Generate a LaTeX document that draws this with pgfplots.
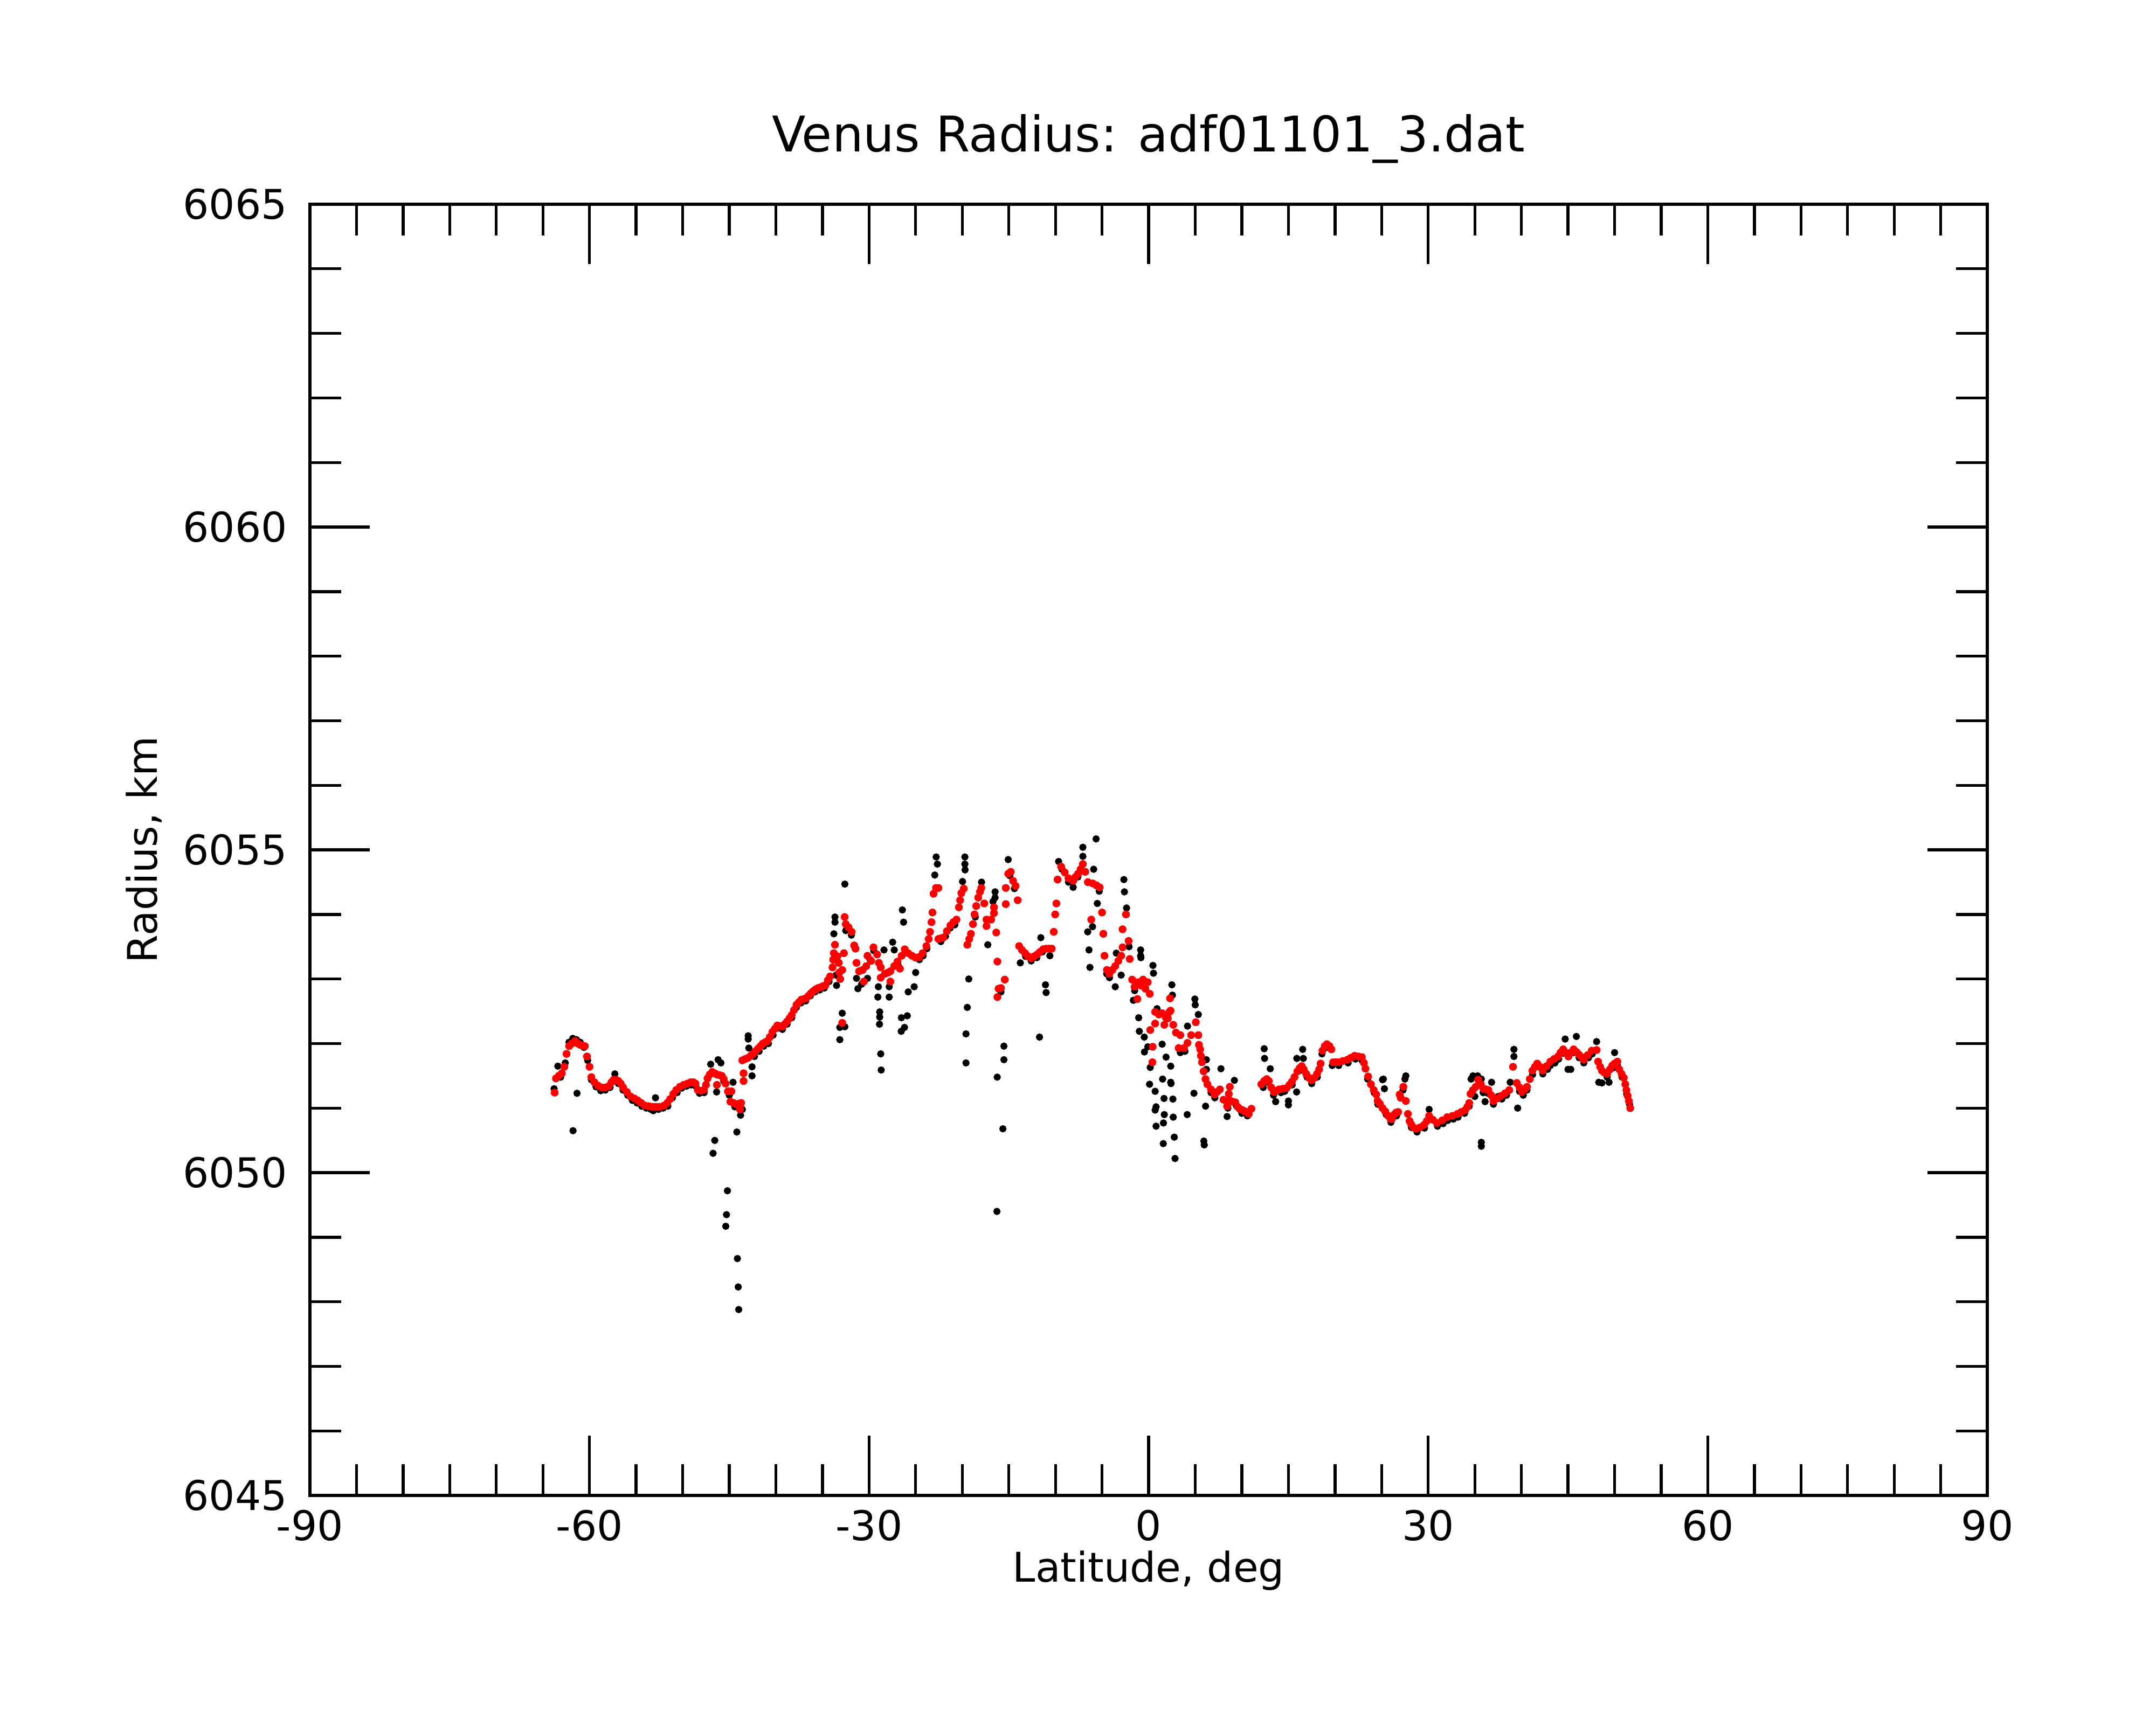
\documentclass[border=0pt]{standalone}
\usepackage{fontspec}
\setmainfont{DejaVu Sans}
\usepackage{pgfplots}
\usepackage{pgfplotstable}
\pgfplotsset{compat=1.18}

\pgfplotstableread[row sep=\\]{
x y\\
-63.74 6051.24\\ -63.6 6051.46\\ -63.3 6051.50\\ -62.97 6051.54\\ -62.7 6051.64\\ -62.46 6051.84\\ -62.19 6051.96\\ -61.9 6052.00\\ -61.54 6052.04\\ -61.25 6052.00\\
-61.0 6051.98\\ -60.75 6051.97\\ -60.5 6051.96\\ -60.27 6051.80\\ -60.0 6051.64\\ -59.8 6051.48\\ -59.47 6051.40\\ -59.1 6051.35\\ -58.7 6051.32\\ -58.3 6051.32\\
-57.93 6051.34\\ -57.65 6051.40\\ -57.41 6051.44\\ -57.15 6051.44\\ -56.91 6051.42\\ -56.65 6051.38\\ -56.39 6051.32\\ -56.0 6051.25\\ -55.6 6051.18\\ -55.2 6051.15\\
-54.83 6051.12\\ -54.45 6051.08\\ -54.06 6051.04\\ -53.65 6051.03\\ -53.28 6051.02\\ -52.9 6051.02\\ -52.5 6051.02\\ -52.0 6051.04\\ -51.65 6051.08\\ -51.35 6051.14\\
-51.0 6051.22\\ -50.7 6051.28\\ -50.3 6051.33\\ -49.9 6051.36\\ -49.5 6051.38\\ -49.15 6051.40\\ -48.85 6051.40\\ -48.63 6051.38\\ -48.38 6051.28\\ -48.05 6051.27\\
-47.73 6051.28\\ -47.5 6051.36\\ -47.34 6051.46\\ -47.1 6051.52\\ -46.83 6051.56\\ -46.55 6051.54\\ -46.33 6051.52\\ -46.33 6051.36\\ -46.05 6051.51\\ -45.81 6051.50\\
-45.6 6051.45\\ -45.4 6051.38\\ -45.15 6051.26\\ -44.77 6051.26\\ -44.88 6051.10\\ -44.55 6051.08\\ -44.25 6051.06\\ -43.95 6051.07\\ -43.73 6051.08\\ -43.85 6050.98\\
-43.47 6051.42\\ -43.47 6051.54\\ -43.6 6051.74\\ -43.3 6051.76\\ -42.97 6051.78\\ -42.7 6051.81\\ -42.45 6051.84\\ -42.2 6051.88\\ -41.93 6051.92\\ -41.65 6051.96\\
-41.41 6052.00\\ -41.15 6052.02\\ -40.9 6052.04\\ -40.65 6052.10\\ -40.37 6052.18\\ -40.1 6052.23\\ -39.85 6052.28\\ -39.6 6052.27\\ -39.33 6052.26\\ -39.05 6052.30\\
-38.81 6052.34\\ -38.55 6052.39\\ -38.31 6052.44\\ -38.05 6052.52\\ -37.79 6052.60\\ -37.53 6052.64\\ -37.27 6052.68\\ -37.0 6052.69\\ -36.76 6052.70\\ -36.5 6052.74\\
-36.24 6052.78\\ -36.0 6052.81\\ -35.74 6052.84\\ -35.48 6052.86\\ -35.22 6052.87\\ -34.95 6052.89\\ -34.7 6052.90\\ -34.43 6052.98\\ -34.18 6053.04\\ -33.92 6053.18\\
-33.85 6053.30\\ -33.78 6053.40\\ -33.66 6053.53\\ -33.4 6053.35\\ -33.25 6053.25\\ -33.2 6053.10\\ -33.1 6053.00\\ -32.88 6053.14\\ -32.88 6052.32\\ -32.7 6053.40\\
-32.62 6053.96\\ -32.5 6053.85\\ -32.2 6053.80\\ -31.87 6053.73\\ -31.6 6053.52\\ -31.46 6053.47\\ -31.35 6053.25\\ -31.07 6053.12\\ -30.69 6053.14\\ -30.56 6052.96\\
-30.3 6053.20\\ -30.17 6053.36\\ -29.78 6053.28\\ -29.53 6053.49\\ -29.14 6053.38\\ -28.95 6053.25\\ -28.75 6053.18\\ -28.75 6053.02\\ -28.3 6053.08\\ -27.95 6053.10\\
-27.72 6053.12\\ -27.72 6052.96\\ -27.3 6053.20\\ -26.95 6053.27\\ -26.69 6053.16\\ -26.5 6053.36\\ -26.17 6053.46\\ -25.8 6053.40\\ -25.4 6053.36\\ -25.0 6053.33\\
-24.62 6053.34\\ -24.25 6053.40\\ -23.85 6053.51\\ -23.6 6053.62\\ -23.46 6053.73\\ -23.3 6053.88\\ -23.2 6054.03\\ -23.08 6054.32\\ -22.82 6054.41\\ -22.56 6054.41\\
-22.56 6053.62\\ -22.3 6053.63\\ -22.05 6053.64\\ -21.65 6053.74\\ -21.27 6053.83\\ -20.95 6053.88\\ -20.62 6053.92\\ -20.36 6054.11\\ -20.23 6054.22\\ -20.1 6054.33\\
-19.84 6054.40\\ -19.46 6053.53\\ -19.25 6053.62\\ -19.07 6053.70\\ -18.85 6053.85\\ -18.68 6054.00\\ -18.5 6054.13\\ -18.29 6054.26\\ -18.1 6054.35\\ -17.96 6054.41\\
-17.64 6054.17\\ -17.4 6053.92\\ -17.4 6053.82\\ -16.9 6053.92\\ -16.6 6054.11\\ -16.6 6054.02\\ -16.35 6053.72\\ -16.23 6053.27\\ -16.23 6052.72\\ -16.1 6052.85\\
-15.85 6052.86\\ -15.44 6052.99\\ -15.33 6054.41\\ -15.33 6054.16\\ -15.07 6054.63\\ -14.8 6054.66\\ -14.55 6054.52\\ -14.28 6054.44\\ -14.05 6054.22\\ -13.9 6053.51\\
-13.6 6053.45\\ -13.26 6053.40\\ -12.95 6053.35\\ -12.61 6053.32\\ -12.3 6053.35\\ -11.97 6053.38\\ -11.65 6053.42\\ -11.32 6053.46\\ -11.0 6053.47\\ -10.7 6053.47\\
-10.4 6053.47\\ -10.18 6053.73\\ -10.03 6054.00\\ -9.9 6054.17\\ -9.77 6054.54\\ -9.39 6054.74\\ -9.0 6054.65\\ -8.6 6054.56\\ -8.1 6054.52\\ -7.85 6054.58\\
-7.57 6054.63\\ -7.3 6054.70\\ -7.06 6054.78\\ -6.8 6054.66\\ -6.52 6054.50\\ -6.16 6053.92\\ -6.0 6054.48\\ -5.6 6054.45\\ -5.26 6054.42\\ -5.0 6054.03\\
-4.86 6053.70\\ -4.74 6053.36\\ -4.48 6053.14\\ -4.22 6053.08\\ -3.9 6053.14\\ -3.58 6053.20\\ -3.25 6053.28\\ -2.95 6053.36\\ -2.8 6053.49\\ -2.8 6053.77\\
-2.43 6054.00\\ -2.15 6053.59\\ -2.03 6053.31\\ -1.77 6052.99\\ -1.5 6052.88\\ -1.21 6052.69\\ -1.12 6052.95\\ -0.85 6052.90\\ -0.6 6052.99\\ -0.35 6052.85\\
-0.1 6052.95\\ 0.12 6052.77\\ 0.17 6052.21\\ 0.4 6051.71\\ 0.43 6051.95\\ 0.7 6052.49\\ 0.7 6052.31\\ 1.1 6052.45\\ 1.45 6052.47\\ 1.68 6052.29\\
1.85 6052.40\\ 2.06 6052.39\\ 2.23 6052.49\\ 2.3 6052.70\\ 2.35 6052.51\\ 2.64 6052.29\\ 2.93 6052.17\\ 3.22 6051.93\\ 3.4 6052.13\\ 3.8 6051.93\\
4.17 6052.01\\ 4.56 6052.13\\ 5.06 6052.33\\ 5.33 6052.13\\ 5.4 6051.98\\ 5.53 6051.91\\ 5.6 6051.81\\ 5.72 6051.71\\ 5.9 6051.57\\ 6.1 6051.45\\
6.3 6051.37\\ 6.69 6051.29\\ 7.07 6051.21\\ 7.35 6051.25\\ 7.65 6051.29\\ 8.04 6051.13\\ 8.42 6051.03\\ 8.6 6051.22\\ 8.71 6051.33\\ 8.7 6051.12\\
9.0 6051.10\\ 9.29 6051.09\\ 9.55 6051.02\\ 9.77 6050.99\\ 10.05 6050.97\\ 10.35 6050.95\\ 10.74 6050.91\\ 11.03 6050.99\\
12.09 6051.37\\ 12.4 6051.42\\ 12.67 6051.45\\ 12.9 6051.42\\ 13.15 6051.32\\ 13.44 6051.25\\ 13.7 6051.27\\ 14.0 6051.29\\ 14.4 6051.30\\ 14.8 6051.31\\
15.1 6051.36\\ 15.38 6051.41\\ 15.65 6051.48\\ 15.96 6051.57\\ 16.2 6051.62\\ 16.43 6051.65\\ 16.65 6051.60\\ 16.91 6051.53\\ 17.2 6051.47\\ 17.49 6051.43\\
17.8 6051.47\\ 18.07 6051.53\\ 18.3 6051.60\\ 18.45 6051.69\\ 18.65 6051.89\\ 18.9 6051.96\\ 19.13 6051.99\\ 19.4 6051.96\\ 19.61 6051.91\\ 19.8 6051.71\\
20.1 6051.71\\ 20.37 6051.71\\ 20.85 6051.73\\ 21.33 6051.75\\ 21.7 6051.78\\ 22.1 6051.81\\ 22.5 6051.80\\ 22.88 6051.79\\ 23.1 6051.70\\ 23.27 6051.61\\
23.55 6051.49\\ 23.85 6051.37\\ 24.15 6051.28\\ 24.43 6051.21\\ 24.57 6051.11\\ 24.8 6051.07\\ 25.1 6051.00\\ 25.39 6050.95\\ 25.7 6050.88\\ 25.97 6050.83\\
26.09 6050.83\\ 26.35 6050.90\\ 26.55 6050.93\\ 26.77 6050.94\\ 26.94 6051.21\\ 27.05 6051.16\\ 27.33 6051.33\\ 27.6 6051.11\\ 27.82 6050.91\\ 28.0 6050.80\\
28.17 6050.75\\ 28.4 6050.70\\ 28.7 6050.68\\ 29.1 6050.70\\ 29.55 6050.74\\ 29.85 6050.80\\ 30.1 6050.88\\ 30.5 6050.82\\ 30.93 6050.77\\ 31.5 6050.81\\
32.04 6050.86\\ 32.6 6050.88\\ 33.14 6050.91\\ 33.55 6050.94\\ 33.97 6050.97\\ 34.2 6051.02\\ 34.4 6051.08\\ 34.54 6051.22\\ 34.8 6051.28\\ 35.1 6051.33\\
35.36 6051.44\\ 35.65 6051.37\\ 35.92 6051.30\\ 36.2 6051.29\\ 36.46 6051.28\\ 36.75 6051.20\\ 37.0 6051.11\\ 37.4 6051.15\\ 37.84 6051.19\\ 38.25 6051.23\\
38.7 6051.28\\ 39.1 6051.64\\ 39.5 6051.39\\ 39.8 6051.32\\ 40.07 6051.25\\ 40.35 6051.29\\ 40.6 6051.33\\ 40.9 6051.45\\ 41.18 6051.58\\ 41.45 6051.64\\
41.7 6051.69\\ 42.0 6051.64\\ 42.29 6051.58\\ 42.7 6051.65\\ 43.1 6051.72\\ 43.5 6051.76\\ 43.94 6051.80\\ 44.2 6051.86\\ 44.48 6051.91\\ 44.75 6051.86\\
45.05 6051.80\\ 45.3 6051.86\\ 45.6 6051.91\\ 45.9 6051.87\\ 46.16 6051.83\\ 46.45 6051.79\\ 46.71 6051.75\\ 47.1 6051.82\\ 47.55 6051.89\\ 48.07 6051.90\\
48.23 6051.72\\ 48.45 6051.64\\ 48.64 6051.58\\ 48.9 6051.55\\ 49.2 6051.53\\ 49.5 6051.60\\ 49.75 6051.66\\ 50.0 6051.69\\ 50.3 6051.72\\ 50.5 6051.60\\
50.75 6051.53\\ 50.99 6051.47\\ 51.15 6051.37\\ 51.27 6051.28\\ 51.4 6051.19\\ 51.53 6051.11\\ 51.68 6051.00\\
}\redtab

\pgfplotstableread[row sep=\\]{
x y\\
-63.8 6051.30\\ -63.4 6051.65\\ -63.1 6051.48\\ -62.6 6051.70\\ -62.2 6052.02\\ -61.8 6052.08\\ -61.4 6052.06\\ -61.0 6052.02\\ -61.34 6051.23\\ -61.77 6050.65\\
-60.6 6051.94\\ -60.2 6051.74\\ -59.8 6051.44\\ -59.3 6051.33\\ -58.8 6051.27\\ -58.3 6051.28\\ -57.8 6051.32\\ -57.28 6051.53\\ -56.9 6051.38\\ -56.4 6051.28\\
-55.9 6051.20\\ -55.4 6051.12\\ -54.9 6051.08\\ -54.4 6051.03\\ -53.9 6051.00\\ -53.4 6050.98\\ -52.92 6051.16\\ -53.15 6050.96\\ -52.6 6050.98\\ -52.1 6051.00\\
-51.6 6051.03\\ -51.1 6051.16\\ -50.6 6051.24\\ -50.1 6051.31\\ -49.6 6051.34\\ -49.1 6051.36\\ -48.6 6051.34\\ -48.2 6051.23\\ -47.7 6051.24\\ -47.0 6051.68\\
-46.56 6050.50\\ -46.74 6050.30\\ -46.36 6051.25\\ -46.2 6051.75\\ -45.9 6051.70\\ -45.6 6051.42\\ -45.2 6049.72\\ -45.3 6049.35\\ -45.38 6049.17\\ -45.0 6051.20\\
-44.6 6051.40\\ -44.13 6048.67\\ -44.04 6048.23\\ -43.99 6047.88\\ -44.19 6050.63\\ -43.79 6050.89\\ -43.6 6050.98\\ -44.4 6051.02\\ -42.97 6052.12\\ -42.97 6052.07\\
-42.9 6051.93\\ -42.56 6051.64\\ -42.56 6051.50\\ -42.3 6051.80\\ -41.8 6051.88\\ -41.3 6051.96\\ -40.8 6052.00\\ -40.3 6052.13\\ -39.8 6052.24\\ -39.3 6052.22\\
-38.8 6052.30\\ -38.3 6052.40\\ -37.8 6052.56\\ -37.3 6052.63\\ -36.8 6052.66\\ -36.3 6052.74\\ -35.8 6052.80\\ -35.3 6052.83\\ -34.8 6052.86\\ -34.3 6052.96\\
-33.66 6053.96\\ -33.66 6053.88\\ -33.78 6053.70\\ -33.54 6053.06\\ -33.49 6052.90\\ -33.14 6052.06\\ -33.14 6052.25\\ -32.88 6052.47\\ -32.6 6054.47\\ -32.6 6052.26\\
-32.5 6053.75\\ -31.9 6053.68\\ -31.35 6053.01\\ -31.2 6052.85\\ -30.8 6052.92\\ -30.17 6053.01\\ -29.9 6053.30\\ -29.5 6053.44\\ -29.06 6052.72\\ -29.0 6052.88\\
-28.88 6052.30\\ -28.86 6052.49\\ -28.86 6052.41\\ -28.75 6051.84\\ -28.7 6051.59\\ -28.4 6053.45\\ -27.84 6052.88\\ -27.84 6052.72\\ -27.47 6053.57\\ -27.3 6053.45\\
-26.9 6053.22\\ -26.55 6052.19\\ -26.53 6052.40\\ -26.43 6054.07\\ -26.3 6053.88\\ -26.2 6052.25\\ -25.9 6052.43\\ -25.8 6052.80\\ -25.16 6052.88\\ -25.0 6053.10\\
-24.6 6053.30\\ -24.2 6053.36\\ -23.8 6053.47\\ -22.95 6054.61\\ -22.8 6054.89\\ -22.67 6054.78\\ -22.3 6053.58\\ -21.8 6053.66\\ -21.3 6053.79\\ -20.8 6053.84\\
-19.97 6054.51\\ -19.72 6054.89\\ -19.72 6054.78\\ -19.7 6054.69\\ -19.3 6053.00\\ -19.46 6052.56\\ -19.6 6052.15\\ -19.6 6051.70\\ -18.6 6053.96\\ -17.93 6054.50\\
-17.26 6053.53\\ -16.7 6054.20\\ -16.48 6054.35\\ -16.48 6054.26\\ -16.25 6051.48\\ -15.85 6052.80\\ -15.53 6051.96\\ -15.53 6051.75\\ -15.64 6050.68\\ -16.28 6049.40\\
-15.07 6054.85\\ -14.9 6054.60\\ -14.4 6054.40\\ -13.77 6053.25\\ -13.2 6053.35\\ -12.6 6053.28\\ -12.0 6053.33\\ -11.57 6053.64\\ -11.4 6053.42\\ -11.07 6052.91\\
-11.0 6052.79\\ -11.71 6052.10\\ -10.6 6053.36\\ -9.66 6054.82\\ -9.3 6054.70\\ -8.6 6054.50\\ -8.1 6054.42\\ -7.6 6054.58\\ -7.06 6055.04\\ -7.06 6054.90\\
-6.54 6053.73\\ -6.4 6053.45\\ -6.3 6053.18\\ -6.02 6053.81\\ -5.9 6054.70\\ -5.64 6055.17\\ -5.51 6054.17\\ -5.3 6054.36\\ -4.5 6053.08\\ -4.2 6053.02\\
-3.58 6052.88\\ -3.47 6053.40\\ -2.95 6053.06\\ -2.66 6054.54\\ -2.6 6054.35\\ -2.37 6054.10\\ -2.1 6053.50\\ -1.64 6052.67\\ -1.5 6052.82\\ -1.07 6052.40\\
-1.0 6052.19\\ -0.86 6053.45\\ -0.86 6053.36\\ -0.83 6053.33\\ -0.47 6052.10\\ -0.45 6051.87\\ -0.09 6051.95\\ 0.1 6051.37\\ 0.17 6051.63\\ 0.46 6053.21\\
0.52 6053.09\\ 0.7 6051.26\\ 0.7 6050.97\\ 0.8 6051.02\\ 0.8 6050.72\\ 0.9 6052.54\\ 1.45 6051.99\\ 1.5 6051.45\\ 1.57 6050.45\\ 1.59 6050.77\\
1.65 6051.15\\ 1.68 6050.90\\ 1.87 6051.79\\ 2.37 6051.65\\ 2.37 6051.40\\ 2.4 6051.38\\ 2.49 6052.91\\ 2.55 6052.75\\ 2.6 6051.14\\ 2.64 6050.86\\
2.75 6050.55\\ 2.83 6050.22\\ 3.4 6051.86\\ 3.9 6051.88\\ 4.14 6050.90\\ 4.17 6052.27\\ 4.86 6051.23\\ 4.96 6052.69\\ 5.0 6052.60\\ 5.33 6052.45\\
5.92 6050.49\\ 5.97 6050.43\\ 6.11 6051.03\\ 6.19 6051.75\\ 6.2 6051.60\\ 6.7 6051.24\\ 7.1 6051.16\\ 7.76 6051.61\\ 8.42 6050.87\\ 8.5 6051.00\\
9.2 6051.43\\ 9.4 6051.04\\ 10.0 6050.92\\ 10.6 6050.88\\ 12.4 6051.92\\ 12.44 6051.77\\ 12.3 6051.32\\ 12.8 6051.40\\ 13.05 6051.61\\ 13.4 6051.20\\
13.63 6051.10\\ 14.2 6051.24\\ 14.6 6051.26\\ 15.0 6051.05\\ 15.0 6051.11\\ 15.4 6051.36\\ 15.88 6051.25\\ 15.9 6051.77\\ 16.2 6051.58\\ 16.53 6051.91\\
16.6 6051.77\\ 17.0 6051.48\\ 17.5 6051.38\\ 18.1 6051.48\\ 18.6 6051.84\\ 19.1 6051.94\\ 19.7 6051.66\\ 20.4 6051.66\\ 21.4 6051.70\\ 22.2 6051.76\\
22.9 6051.74\\ 23.5 6051.45\\ 24.2 6051.24\\ 24.6 6051.06\\ 25.1 6051.44\\ 25.19 6051.45\\ 25.3 6051.30\\ 25.5 6050.90\\ 26.0 6050.78\\ 26.6 6050.88\\
27.3 6051.28\\ 27.6 6051.50\\ 27.5 6051.45\\ 28.2 6050.70\\ 28.8 6050.63\\ 29.6 6050.69\\ 30.1 6050.98\\ 30.2 6050.83\\ 31.0 6050.72\\ 31.6 6050.76\\
32.1 6050.81\\ 32.7 6050.83\\ 33.2 6050.86\\ 33.9 6050.92\\ 34.4 6051.03\\ 34.6 6051.45\\ 34.8 6051.50\\ 35.0 6051.18\\ 35.3 6051.50\\ 35.7 6050.47\\
35.7 6050.41\\ 35.7 6051.45\\ 35.9 6051.24\\ 36.1 6051.10\\ 36.4 6051.23\\ 36.8 6051.40\\ 37.0 6051.06\\ 37.5 6051.18\\ 37.9 6051.14\\ 38.4 6051.20\\
38.8 6051.40\\ 39.2 6051.91\\ 39.2 6051.80\\ 39.6 6051.00\\ 39.8 6051.26\\ 40.2 6051.20\\ 40.6 6051.28\\ 41.2 6051.52\\ 41.7 6051.64\\ 42.3 6051.53\\
42.8 6051.60\\ 43.1 6051.66\\ 43.6 6051.70\\ 44.0 6051.76\\ 44.7 6052.07\\ 44.5 6051.85\\ 45.0 6051.60\\ 45.3 6051.60\\ 45.6 6051.86\\ 45.9 6052.11\\
46.2 6051.78\\ 46.7 6051.70\\ 47.2 6051.78\\ 47.6 6051.84\\ 48.07 6052.03\\ 48.3 6051.40\\ 48.64 6051.39\\ 49.2 6051.48\\ 49.4 6051.40\\ 49.8 6051.62\\
50.0 6051.86\\ 50.3 6051.67\\ 50.8 6051.48\\ 51.3 6051.22\\ 51.6 6051.06\\
}\blacktab

\begin{document}
\begin{tikzpicture}
\path[use as bounding box] (0,0) rectangle (526.3pt,421.05pt);
\begin{axis}[
  at={(75.66pt,55.92pt)}, anchor=south west,
  scale only axis, width=409.47pt, height=315.26pt,
  xmin=-90, xmax=90, ymin=6045, ymax=6065,
  xtick={-90,-60,-30,0,30,60,90},
  xticklabels={-90,-60,-30,0,30,60,90},
  ytick={6045,6050,6055,6060,6065},
  yticklabels={6045,6050,6055,6060,6065},
  minor x tick num=5, minor y tick num=4,
  tick align=inside, xtick pos=both, ytick pos=both,
  xticklabel pos=lower, yticklabel pos=left,
  major tick length=14.6pt, minor tick length=7.6pt,
  axis line style={line width=0.8pt, black},
  every tick/.style={black, line width=0.7pt},
  tick label style={font=\fontsize{10}{12}\selectfont},
  yticklabel style={xshift=-2pt},
  every axis title shift=0pt,
  title={Venus Radius: adf01101\_3.dat},
  title style={at={([yshift=12.8pt]axis description cs:0.5,1)}, anchor=base, font=\fontsize{12}{14}\selectfont},
  xlabel={Latitude, deg},
  xlabel style={at={([yshift=-21.05pt]axis description cs:0.5,0)}, anchor=base, font=\fontsize{10}{12}\selectfont},
  ylabel={Radius, km},
  ylabel style={at={([xshift=-37.3pt]axis description cs:0,0.5)}, anchor=base, font=\fontsize{10}{12}\selectfont},
  clip=true,
]
\addplot[only marks, mark=*, mark size=0.68pt, black, mark options={draw=none, fill=black}] table {\blacktab};
\addplot[only marks, mark=*, mark size=0.75pt, red, mark options={draw=none, fill=red}] table {\redtab};
\end{axis}
\end{tikzpicture}
\end{document}
